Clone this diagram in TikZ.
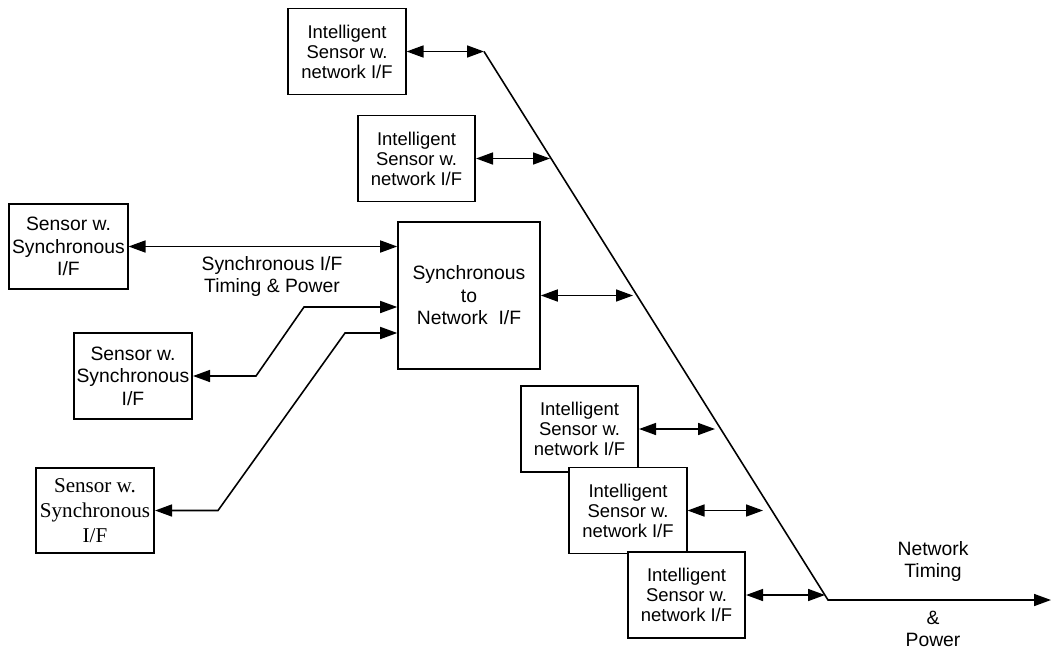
\documentclass[tikz,border=0pt]{standalone}
\usepackage{fontspec}
\setmainfont{Liberation Sans}
\newfontfamily\timesfont{Liberation Serif}
\usetikzlibrary{arrows.meta}
\begin{document}
\begin{tikzpicture}[
  x=0.02cm, y=-0.02cm,
  >={Triangle[length=3.4mm,width=2.4mm]},
  line width=0.9pt,
  every node/.style = {align=center, inner sep=0pt},
  netbox/.style={draw, fill=white, minimum width=2.35cm, minimum height=1.72cm,
    font=\fontsize{10.5}{11.4}\selectfont},
  syncbox/.style={draw, fill=white, minimum width=2.37cm, minimum height=1.71cm,
    font=\fontsize{11}{12.8}\selectfont},
  serifbox/.style={syncbox, font=\timesfont\fontsize{12}{14.2}\selectfont},
  link/.style={<->},
  lbl/.style={font=\fontsize{11}{12.5}\selectfont}]
  \useasboundingbox (0,0) rectangle (1053,649);
  % network bus
  \coordinate (top) at (484,51.5);
  \coordinate (knee) at (828,600);
  \coordinate (out) at (1051,600);
  \draw[->] (top) -- (knee) -- (out);
  % intelligent sensors
  \node[netbox] (ins1) at (347,51.5) {Intelligent\\Sensor w.\\network I/F};
  \node[netbox] (ins2) at (416.5,158.5) {Intelligent\\Sensor w.\\network I/F};
  \node[netbox] (ins3) at (579.5,429) {Intelligent\\Sensor w.\\network I/F};
  \node[netbox] (ins4) at (628,510.5) {Intelligent\\Sensor w.\\network I/F};
  \node[netbox] (ins5) at (686.5,595) {Intelligent\\Sensor w.\\network I/F};
  % synchronous side
  \node[syncbox, minimum width=2.84cm, minimum height=2.94cm] (sync) at (469,295.5)
    {Synchronous\\to\\Network\ \ I/F};
  \node[syncbox] (sa) at (68.5,246.5) {Sensor w.\\Synchronous\\I/F};
  \node[syncbox] (sb) at (133,376) {Sensor w.\\Synchronous\\I/F};
  \node[serifbox] (sc) at (95,510.5) {Sensor w.\\Synchronous\\I/F};
  % bus taps
  \coordinate (t2) at (550,158.5);
  \coordinate (t3) at (633,295.5);
  \coordinate (t4) at (715,429);
  \coordinate (t5) at (763,510.5);
  \coordinate (t6) at (825,595);
  \draw[link] (ins1.east) -- (top);
  \draw[link] (ins2.east) -- (t2);
  \draw[link] (sync.east) -- (t3);
  \draw[link] (ins3.east) -- (t4);
  \draw[link] (ins4.east) -- (t5);
  \draw[link] (ins5.east) -- (t6);
  % synchronous links
  \coordinate (b1) at (256,376);
  \coordinate (b2) at (304,307);
  \coordinate (c1) at (218,510.5);
  \coordinate (c2) at (345,333);
  \draw[link] (sa.east) -- (sa.east -| sync.west);
  \draw[link] (sb.east) -- (b1) -- (b2) -- (b2 -| sync.west);
  \draw[link] (sc.east) -- (c1) -- (c2) -- (c2 -| sync.west);
  % labels
  \node[lbl] (synclbl) at (272,276.5) {Synchronous I/F\\Timing \& Power};
  \node[lbl, font=\fontsize{11}{13}\selectfont] (netlbl) at (933,561.5) {Network\\Timing};
  \node[lbl] (pwrlbl) at (933,629) {\&\\Power};
\end{tikzpicture}
\end{document}
